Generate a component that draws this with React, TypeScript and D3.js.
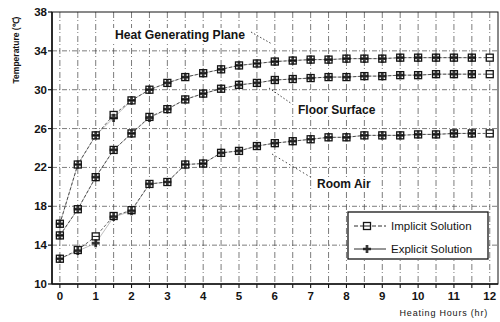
import React from 'react';
import * as d3 from 'd3';

// heating hours, every half hour
const hours = [0, 0.5, 1, 1.5, 2, 2.5, 3, 3.5, 4, 4.5, 5, 5.5, 6, 6.5, 7, 7.5, 8, 8.5, 9, 9.5, 10, 10.5, 11, 11.5, 12];

const heatImplicit = [16.2, 22.3, 25.3, 27.4, 28.9, 30.0, 30.7, 31.3, 31.7, 32.1, 32.5, 32.7, 32.9, 33.0, 33.1, 33.1, 33.2, 33.2, 33.2, 33.3, 33.3, 33.3, 33.3, 33.3, 33.3];
const heatExplicit = [16.2, 22.3, 25.3, 27.1, 28.9, 30.0, 30.7, 31.3, 31.7, 32.1, 32.5, 32.7, 32.9, 33.0, 33.1, 33.1, 33.2, 33.2, 33.2, 33.3, 33.3, 33.3, 33.3, 33.3];

const floorImplicit = [15.0, 17.7, 21.0, 23.8, 25.5, 27.2, 28.0, 29.0, 29.6, 30.1, 30.5, 30.7, 31.0, 31.1, 31.2, 31.3, 31.3, 31.4, 31.4, 31.5, 31.5, 31.6, 31.6, 31.6, 31.6];
const floorExplicit = [15.0, 17.7, 21.0, 23.8, 25.5, 27.1, 28.0, 29.0, 29.6, 30.1, 30.5, 30.7, 31.0, 31.1, 31.2, 31.3, 31.3, 31.4, 31.4, 31.5, 31.5, 31.6, 31.6, 31.6];

const airImplicit = [12.6, 13.5, 14.9, 17.0, 17.6, 20.3, 20.5, 22.3, 22.4, 23.5, 23.7, 24.2, 24.5, 24.7, 24.9, 25.1, 25.1, 25.3, 25.3, 25.3, 25.4, 25.4, 25.5, 25.5, 25.5];
const airExplicit = [12.6, 13.4, 14.2, 16.9, 17.5, 20.3, 20.5, 22.3, 22.4, 23.5, 23.7, 24.2, 24.5, 24.7, 24.9, 25.1, 25.1, 25.3, 25.3, 25.3, 25.4, 25.4, 25.5, 25.5];

const yTicks = [10, 14, 18, 22, 26, 30, 34, 38];
const xTicks = [0, 1, 2, 3, 4, 5, 6, 7, 8, 9, 10, 11, 12];

const W = 500;
const H = 322;
const ink = '#141414';
const font = 'Liberation Sans, Arial, sans-serif';

const x = d3.scaleLinear().domain([-0.22, 12.23]).range([52, 498]);
const y = d3.scaleLinear().domain([10, 38]).range([284, 12]);

const line = d3
  .line<number>()
  .x((_, i) => x(hours[i]))
  .y((d) => y(d));

const cross = d3.symbol().type(d3.symbolCross).size(36)();

const Implicit = ({ cx, cy }: { cx: number; cy: number }) => (
  <g transform={`translate(${cx},${cy})`}>
    <rect x={-3.5} y={-3.5} width={7} height={7} fill="#fff" stroke={ink} strokeWidth={1.3} />
    <line x1={-3.5} x2={3.5} y1={0} y2={0} stroke={ink} strokeWidth={1} />
  </g>
);

const Explicit = ({ cx, cy }: { cx: number; cy: number }) => (
  <path d={cross} transform={`translate(${cx},${cy})`} fill={ink} opacity={0.85} />
);

const App = () => {
  const implicitSeries = [heatImplicit, floorImplicit, airImplicit];
  const explicitSeries = [heatExplicit, floorExplicit, airExplicit];

  return (
    <svg width={W} height={H} style={{ position: 'absolute', left: 0, top: 0, background: '#fff' }} fontFamily={font}>
      {/* grid */}
      {yTicks.slice(1, -1).map((t) => (
        <line key={'gy' + t} x1={52} x2={498} y1={y(t)} y2={y(t)} stroke="#444" strokeWidth={0.7} strokeDasharray="5,2,1,2" />
      ))}
      {hours.map((h) => (
        <line key={'gx' + h} x1={x(h)} x2={x(h)} y1={12} y2={284} stroke="#444" strokeWidth={0.7} strokeDasharray="6,2,1,3" />
      ))}

      {/* frame / axes */}
      <rect x={52} y={12} width={446} height={272} fill="none" stroke={ink} strokeWidth={1} />
      <line x1={52} x2={52} y1={12} y2={284} stroke={ink} strokeWidth={1.6} />
      <line x1={52} x2={498} y1={284} y2={284} stroke={ink} strokeWidth={1.6} />

      {yTicks.map((t) => (
        <g key={'yt' + t}>
          <line x1={48} x2={52} y1={y(t)} y2={y(t)} stroke={ink} strokeWidth={1.2} />
          <text x={47} y={y(t) + 4} textAnchor="end" fontSize={11.5} fontWeight="bold" fill={ink}>
            {t}
          </text>
        </g>
      ))}
      {hours.map((h) => (
        <line key={'xt' + h} x1={x(h)} x2={x(h)} y1={284} y2={288} stroke={ink} strokeWidth={1.1} />
      ))}
      {xTicks.map((t) => (
        <text key={'xl' + t} x={x(t)} y={300} textAnchor="middle" fontSize={11.5} fontWeight="bold" fill={ink}>
          {t}
        </text>
      ))}

      <text transform="translate(19,50) rotate(-90)" textAnchor="middle" fontSize={8.5} fontWeight="bold" fill={ink}>
        Temperature (℃)
      </text>
      <text x={488} y={316} textAnchor="end" fontSize={9} letterSpacing={0.8} fill={ink}>
        Heating Hours (hr)
      </text>

      {/* series lines */}
      {implicitSeries.map((s, i) => (
        <path key={'li' + i} d={line(s) || ''} fill="none" stroke={ink} strokeWidth={0.8} strokeDasharray="3,2" opacity={0.85} />
      ))}
      {explicitSeries.map((s, i) => (
        <path key={'le' + i} d={line(s) || ''} fill="none" stroke={ink} strokeWidth={0.5} opacity={0.55} />
      ))}

      {/* markers */}
      {implicitSeries.map((s, i) =>
        s.map((v, j) => <Implicit key={`mi${i}-${j}`} cx={x(hours[j])} cy={y(v)} />)
      )}
      {explicitSeries.map((s, i) =>
        s.map((v, j) => <Explicit key={`me${i}-${j}`} cx={x(hours[j])} cy={y(v)} />)
      )}

      {/* annotations */}
      <rect x={113} y={28} width={135} height={15} fill="#fff" />
      <text x={115} y={39} fontSize={12.2} fontWeight="bold" fill={ink}>
        Heat Generating Plane
      </text>
      <line x1={251} x2={272} y1={32} y2={44} stroke={ink} strokeWidth={0.8} strokeDasharray="1.5,2" />

      <rect x={296} y={102} width={80} height={14} fill="#fff" />
      <text x={298} y={114} fontSize={12} fontWeight="bold" fill={ink}>
        Floor Surface
      </text>
      <line x1={269} x2={292} y1={88} y2={104} stroke={ink} strokeWidth={0.8} strokeDasharray="1.5,2" />

      <rect x={316} y={177} width={54} height={14} fill="#fff" />
      <text x={317} y={188} fontSize={12} fontWeight="bold" fill={ink}>
        Room Air
      </text>
      <line x1={272} x2={312} y1={154} y2={178} stroke={ink} strokeWidth={0.8} strokeDasharray="1.5,2.5" />

      {/* legend */}
      <rect x={348} y={212} width={140} height={47} fill="#fff" stroke={ink} strokeWidth={1.3} />
      <line x1={354} x2={386} y1={226} y2={226} stroke={ink} strokeWidth={0.9} strokeDasharray="4,2" />
      <Implicit cx={367} cy={226} />
      <text x={391} y={230} fontSize={11.5} fill={ink}>
        Implicit Solution
      </text>
      <line x1={354} x2={386} y1={249} y2={249} stroke={ink} strokeWidth={0.9} />
      <Explicit cx={367} cy={249} />
      <text x={391} y={253} fontSize={11.5} fill={ink}>
        Explicit Solution
      </text>
    </svg>
  );
};

export default App;
